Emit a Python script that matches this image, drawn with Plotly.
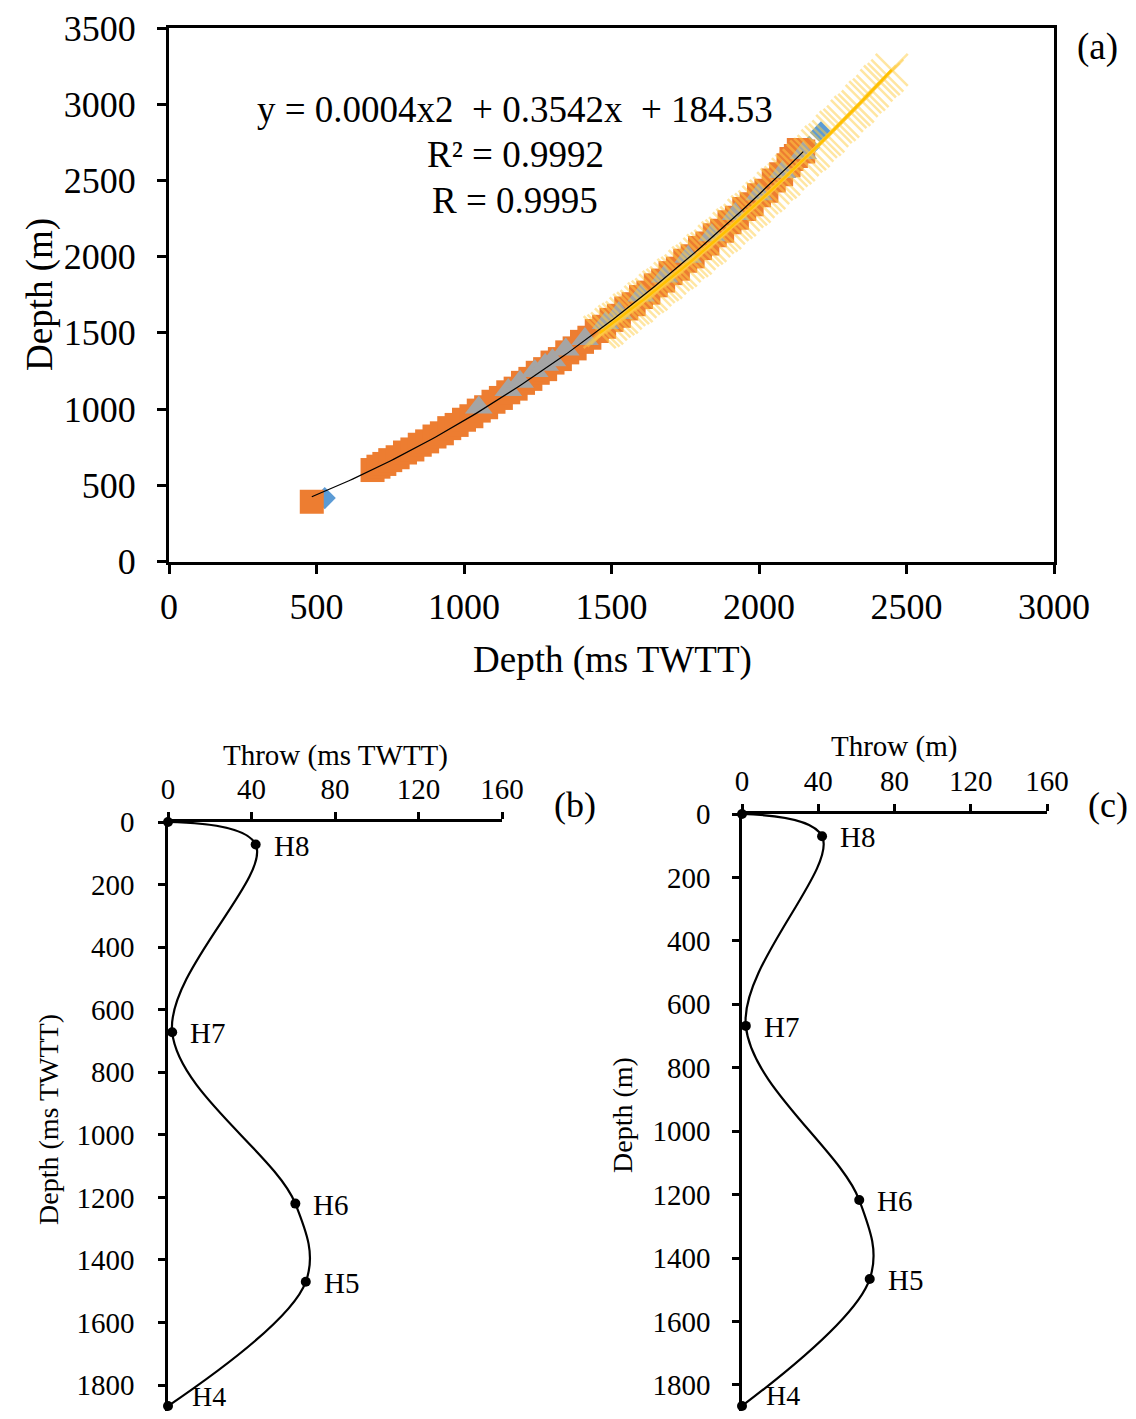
import numpy as np
import plotly.graph_objects as go

# ---------------- Panel (a) data ----------------
blue_twt = [528, 700, 900, 1100, 1300, 1500, 1600, 1700, 1800, 1900, 2000, 2100, 2170, 2210]
blue_depth = [416, 615, 815, 1045, 1300, 1570, 1745, 1885, 2040, 2210, 2385, 2575, 2720, 2815]

orange_twt = [484, 690, 710, 730, 750, 775, 800, 825, 850, 875, 900, 925, 950, 975, 1000,
              1025, 1050, 1075, 1100, 1125, 1150, 1175, 1200, 1225, 1250, 1275, 1300, 1325,
              1350, 1375, 1400, 1425, 1450, 1475, 1500, 1525, 1550, 1575, 1600, 1625, 1650,
              1675, 1700, 1725, 1750, 1775, 1800, 1825, 1850, 1875, 1900, 1925, 1950, 1975,
              2000, 2025, 2050, 2075, 2100, 2110, 2125, 2135, 2150]
orange_depth = [392, 600, 622, 640, 665, 684, 715, 735, 766, 788, 820, 841, 875, 896, 930,
                953, 990, 1012, 1048, 1073, 1110, 1134, 1172, 1198, 1238, 1262, 1305, 1328,
                1372, 1398, 1441, 1468, 1512, 1540, 1585, 1612, 1660, 1688, 1735, 1764, 1812,
                1843, 1892, 1921, 1973, 2002, 2056, 2086, 2140, 2170, 2226, 2255, 2313, 2344,
                2402, 2432, 2500, 2540, 2600, 2640, 2660, 2700, 2690]

gray_twt = [1050, 1150, 1190, 1240, 1275, 1300, 1345, 1410, 1480, 1525, 1600, 1680, 1760,
            1840, 1920, 2000, 2080, 2150]
gray_depth = [1010, 1125, 1180, 1250, 1290, 1320, 1390, 1460, 1565, 1630, 1745, 1870, 2000,
              2140, 2280, 2410, 2555, 2680]

yellow_twt = [1460, 1473, 1485, 1498, 1510, 1523, 1535, 1548, 1560, 1573, 1585, 1598, 1610,
              1623, 1635, 1648, 1660, 1673, 1685, 1698, 1710, 1723, 1735, 1748, 1760, 1773,
              1785, 1798, 1810, 1823, 1835, 1848, 1860, 1873, 1885, 1898, 1910, 1923, 1935,
              1948, 1960, 1973, 1985, 1998, 2010, 2023, 2035, 2048, 2060, 2073, 2085, 2098,
              2110, 2123, 2135, 2148, 2160, 2173, 2185, 2198, 2210, 2223, 2235, 2248, 2260,
              2273, 2285, 2298, 2310, 2323, 2335, 2348, 2360, 2373, 2385, 2398, 2410, 2423,
              2435, 2450]
yellow_depth = [1505, 1514, 1530, 1556, 1576, 1590, 1602, 1628, 1651, 1663, 1676, 1704, 1725,
                1738, 1752, 1780, 1802, 1815, 1829, 1858, 1880, 1893, 1908, 1938, 1960, 1973,
                1988, 2018, 2041, 2055, 2071, 2102, 2125, 2138, 2155, 2186, 2209, 2223, 2240,
                2272, 2296, 2310, 2328, 2360, 2384, 2398, 2417, 2450, 2474, 2488, 2507, 2541,
                2565, 2580, 2600, 2634, 2658, 2673, 2693, 2728, 2753, 2768, 2789, 2825, 2850,
                2865, 2886, 2923, 2948, 2963, 2985, 3022, 3047, 3063, 3086, 3124, 3149, 3165,
                3188, 3225]

eq_lines = ["y = 0.0004x2\u00a0\u00a0+ 0.3542x\u00a0\u00a0+ 184.53", "R\u00b2 = 0.9992", "R = 0.9995"]

# ---------------- Panels (b) and (c) data ----------------
horizons = ["", "H8", "H7", "H6", "H5", "H4"]
b_throw = [0, 42, 2, 61, 66, 0]
b_depth = [0, 72, 672, 1220, 1470, 1867]
c_throw = [0, 42, 2, 61.5, 67, 0]
c_depth = [0, 70, 668, 1217, 1466, 1866]

# page has an 8px body margin: figure is drawn 8px in from the top-left of the window
OFF = 8
W, H = 1136 - 2 * OFF, 1419 - 2 * OFF
FONT = "Liberation Serif"


def px(x):
    return (x - OFF) / W


def py(y):
    return min(1.0, max(0.0, 1 - (y - OFF) / H))


fig = go.Figure()

# panel (a) scatter series
fig.add_trace(go.Scatter(x=blue_twt, y=blue_depth, mode="markers", xaxis="x", yaxis="y",
                         marker=dict(symbol="diamond", size=17, color="#5B9BD5"), showlegend=False))
fig.add_trace(go.Scatter(x=orange_twt, y=orange_depth, mode="markers", xaxis="x", yaxis="y",
                         marker=dict(symbol="square", size=24, color="#ED7D31"), showlegend=False))
fig.add_trace(go.Scatter(x=gray_twt, y=gray_depth, mode="markers", xaxis="x", yaxis="y",
                         marker=dict(symbol="triangle-up", size=24, color="#A5A5A5"), showlegend=False))
fig.add_trace(go.Scatter(x=yellow_twt, y=yellow_depth, mode="markers", xaxis="x", yaxis="y",
                         marker=dict(symbol="x-thin", size=32,
                                     line=dict(width=2.5, color="rgba(255,205,70,0.5)")),
                         showlegend=False))

# trendlines (polynomial, order 2) fitted to the series
co = np.polyfit(orange_twt, orange_depth, 2)
tx = np.linspace(min(orange_twt), max(orange_twt), 120)
fig.add_trace(go.Scatter(x=tx, y=np.polyval(co, tx), mode="lines", xaxis="x", yaxis="y",
                         line=dict(color="black", width=1.2), showlegend=False))
cy = np.polyfit(yellow_twt, yellow_depth, 2)
ty = np.linspace(min(yellow_twt), max(yellow_twt), 120)
fig.add_trace(go.Scatter(x=ty, y=np.polyval(cy, ty), mode="lines", xaxis="x", yaxis="y",
                         line=dict(color="#FFC000", width=2.5), showlegend=False))

# panel (b)
fig.add_trace(go.Scatter(x=b_throw, y=b_depth, mode="lines+markers", xaxis="x2", yaxis="y2",
                         line=dict(color="black", width=2.2, shape="spline", smoothing=1),
                         marker=dict(size=10, color="black"), cliponaxis=False, showlegend=False))
# panel (c)
fig.add_trace(go.Scatter(x=c_throw, y=c_depth, mode="lines+markers", xaxis="x3", yaxis="y3",
                         line=dict(color="black", width=2.2, shape="spline", smoothing=1),
                         marker=dict(size=10, color="black"), cliponaxis=False, showlegend=False))

ann = []
# equation text
for i, t in enumerate(eq_lines):
    ann.append(dict(text=t, x=px(515), y=py(110 + 45 * i), xref="paper", yref="paper",
                    showarrow=False, font=dict(size=37, family=FONT, color="black"),
                    xanchor="center", yanchor="middle"))
# horizon labels
for xs, ys, xa, ya in [(b_throw, b_depth, "x2", "y2"), (c_throw, c_depth, "x3", "y3")]:
    for xv, yv, lab in zip(xs, ys, horizons):
        if lab:
            ann.append(dict(text=lab, x=xv, y=yv, xref=xa, yref=ya, showarrow=False,
                            xanchor="left", yanchor="middle",
                            xshift=(22 if lab == "H4" else 16),
                            yshift=(10 if lab == "H4" else -1),
                            font=dict(size=(28 if lab == "H4" else 29), family=FONT,
                                      color="black")))
# axis titles and panel letters
extra = [
    dict(text="Depth (m)", x=px(40), y=py(295), textangle=-90,
         font=dict(size=37, family=FONT, color="black")),
    dict(text="Depth (ms TWTT)", x=px(612), y=py(660),
         font=dict(size=37, family=FONT, color="black")),
    dict(text="(a)", x=px(1097), y=py(47), font=dict(size=37, family=FONT, color="black")),
    dict(text="Throw (ms TWTT)", x=px(335), y=py(755),
         font=dict(size=29, family=FONT, color="black")),
    dict(text="Depth (ms TWTT)", x=px(48), y=py(1120), textangle=-90,
         font=dict(size=28, family=FONT, color="black")),
    dict(text="(b)", x=px(575), y=py(805), font=dict(size=36, family=FONT, color="black")),
    dict(text="Throw (m)", x=px(894), y=py(747),
         font=dict(size=29, family=FONT, color="black")),
    dict(text="Depth (m)", x=px(622), y=py(1115), textangle=-90,
         font=dict(size=28, family=FONT, color="black")),
    dict(text="(c)", x=px(1108), y=py(805), font=dict(size=36, family=FONT, color="black")),
]
for a in extra:
    a.update(xref="paper", yref="paper", showarrow=False, xanchor="center", yanchor="middle")
ann += extra

axis_common = dict(showgrid=False, zeroline=False, showline=True, linecolor="black",
                   ticks="outside", tickcolor="black", automargin=False)


def tf(s):
    return dict(size=s, family=FONT, color="black")


fig.update_layout(
    width=W, height=H, margin=dict(l=0, r=0, t=0, b=0),
    paper_bgcolor="white", plot_bgcolor="white",
    font=dict(family=FONT, color="black"),
    annotations=ann,
    xaxis=dict(**axis_common, domain=[px(169), px(1054)], range=[0, 3000], dtick=500,
               anchor="y", linewidth=3, tickwidth=3, ticklen=9, mirror=True,
               tickfont=tf(36), ticklabelstandoff=2),
    yaxis=dict(**axis_common, domain=[py(561.5), py(28)], range=[0, 3500], dtick=500,
               anchor="x", linewidth=3, tickwidth=3, ticklen=9, mirror=True,
               tickfont=tf(36), ticklabelstandoff=14),
    xaxis2=dict(**axis_common, domain=[px(168), px(502)], range=[0, 160], dtick=40,
                anchor="y2", side="top", linewidth=2.5, tickwidth=2.5, ticklen=7,
                tickfont=tf(29), ticklabelstandoff=2),
    yaxis2=dict(**axis_common, domain=[0, py(822)], range=[1883, 0], dtick=200,
                anchor="x2", linewidth=2.5, tickwidth=2.5, ticklen=7,
                tickfont=tf(29), ticklabelstandoff=18),
    xaxis3=dict(**axis_common, domain=[px(742), px(1047)], range=[0, 160], dtick=40,
                anchor="y3", side="top", linewidth=2.5, tickwidth=2.5, ticklen=7,
                tickfont=tf(29), ticklabelstandoff=2),
    yaxis3=dict(**axis_common, domain=[0, py(814)], range=[1882, 0], dtick=200,
                anchor="x3", linewidth=2.5, tickwidth=2.5, ticklen=7,
                tickfont=tf(29), ticklabelstandoff=16),
)

fig.write_html("out.html")
